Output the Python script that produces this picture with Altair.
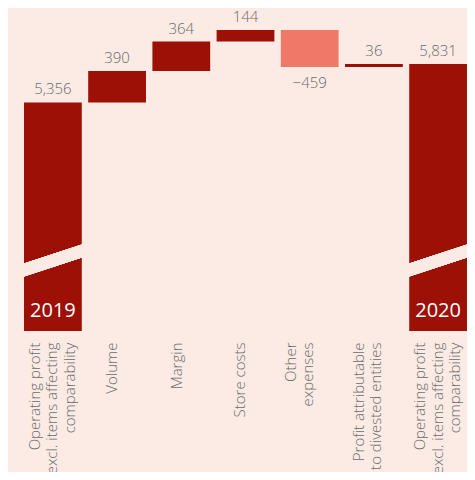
import altair as alt
import pandas as pd

# ---- data ----
keys = ["2019", "Volume", "Margin", "Store costs", "Other expenses",
        "Profit attributable", "2020"]
axis_labels = ["Operating profit|excl. items affecting|comparability",
               "Volume", "Margin", "Store costs", "Other|expenses",
               "Profit attributable|to divested entities",
               "Operating profit|excl. items affecting|comparability"]
values = [5356, 390, 364, 144, -459, 36, 5831]
is_total = [True, False, False, False, False, False, True]
year_labels = ["2019", "", "", "", "", "", "2020"]

# ---- style / layout ----
BG = "#FBEBE4"
DARK = "#9C1006"
SALMON = "#F07868"
TXT = "#6b6b6b"
FONT = "Open Sans"
Y_MIN, Y_MAX = 2525, 6526      # broken axis: totals start at the bottom of the view
W, H = 443, 323
PAD_L, PAD_T, PAD_R, PAD_B = 16, 0, 0, 141
P_IN = 0.1
label_shift = [-18, -5, -4, -6, -19, -15, -18]   # horizontal nudge of the rotated labels

rows = []
running = 0
for k, lab, v, t, yl in zip(keys, axis_labels, values, is_total, year_labels):
    if t:
        start, end = Y_MIN, v
        running = v
    else:
        start, end = running, running + v
        running = end
    rows.append(dict(key=k, label=lab, value=v, start=start, end=end,
                     top=max(start, end), bottom=min(start, end),
                     kind="neg" if v < 0 else "pos", year=yl))
df = pd.DataFrame(rows)

label_expr = "split(" + "".join(
    f"datum.value == '{k}' ? '{l}' : " for k, l in zip(keys, axis_labels)
) + "datum.value, '|')"

offset_cond = {
    "condition": [{"test": f"datum.value == '{k}'", "value": s}
                  for k, s in zip(keys, label_shift)],
    "value": 0,
}

x_enc = alt.X("key:N", sort=keys, title=None,
              scale=alt.Scale(paddingInner=P_IN, paddingOuter=0),
              axis=alt.Axis(labelAngle=-90, labelExpr=label_expr, labelFont=FONT,
                            labelFontSize=15, labelFontWeight=300, labelColor=TXT,
                            labelLineHeight=17.5, labelPadding=11, ticks=False,
                            labelOffset=offset_cond,
                            domain=False, labelLimit=0, labelOverlap=False,
                            labelBound=False, grid=False))
y_scale = alt.Scale(domain=[Y_MIN, Y_MAX], nice=False, zero=False)

base = alt.Chart(df).encode(x=x_enc)

bars = base.mark_bar().encode(
    y=alt.Y("start:Q", scale=y_scale, axis=None),
    y2="end:Q",
    color=alt.Color("kind:N", scale=alt.Scale(domain=["pos", "neg"], range=[DARK, SALMON]),
                    legend=None),
)

pos_lbl = base.transform_filter("datum.value >= 0").mark_text(
    baseline="alphabetic", dy=-8, font=FONT, fontSize=15, fontWeight=300, color=TXT
).encode(y=alt.Y("top:Q", scale=y_scale), text=alt.Text("value:Q", format=","))

neg_lbl = base.transform_filter("datum.value < 0").mark_text(
    baseline="top", dy=9, font=FONT, fontSize=15, fontWeight=300, color=TXT
).encode(y=alt.Y("bottom:Q", scale=y_scale), text=alt.Text("value:Q", format=","))

year_lbl = base.transform_filter("datum.year != ''").mark_text(
    baseline="alphabetic", dy=-14, font=FONT, fontSize=20, color="white"
).encode(y=alt.Y("bottom:Q", scale=y_scale), text="year:N")

# diagonal "axis break" bands across the two total bars
step = W / (len(keys) - P_IN)
bw = step * (1 - P_IN)
breaks = []
for i, t in enumerate(is_total):
    if t:
        x0 = i * step - 5
        x1 = i * step + bw + 5
        breaks.append(
            alt.Chart(df).mark_rule(color=BG, strokeWidth=12.5, strokeCap="butt").encode(
                x=alt.value(x0), x2=alt.value(x1),
                y=alt.datum(3261, scale=y_scale), y2=alt.datum(3536)
            )
        )

chart = alt.layer(bars, *breaks, pos_lbl, neg_lbl, year_lbl).properties(
    width=W, height=H,
    autosize=alt.AutoSizeParams(type="none"),
    padding={"left": PAD_L, "top": PAD_T, "right": PAD_R, "bottom": PAD_B},
    background=BG,
).configure_view(stroke=None)

chart.save("out.html", embed_options={"renderer": "svg", "actions": False})
